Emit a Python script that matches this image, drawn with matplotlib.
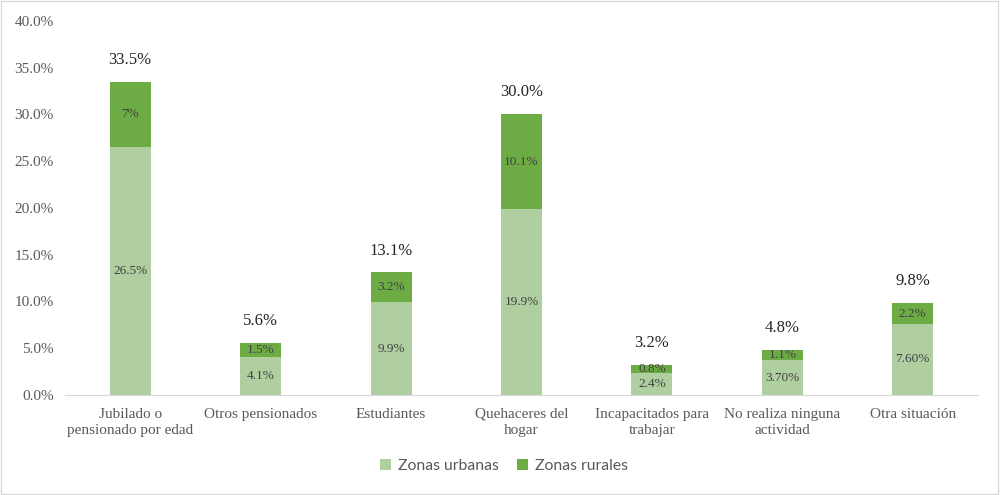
import matplotlib.pyplot as plt
import numpy as np
from matplotlib.patches import Rectangle
from matplotlib.ticker import FuncFormatter

categories = [
    "Jubilado o\npensionado por edad",
    "Otros pensionados",
    "Estudiantes",
    "Quehaceres del\nhogar",
    "Incapacitados para\ntrabajar",
    "No realiza ninguna\nactividad",
    "Otra situación",
]
urbanas = [26.5, 4.1, 9.9, 19.9, 2.4, 3.7, 7.6]
rurales = [7.0, 1.5, 3.2, 10.1, 0.8, 1.1, 2.2]
urbanas_labels = ["26.5%", "4.1%", "9.9%", "19.9%", "2.4%", "3.70%", "7.60%"]
rurales_labels = ["7%", "1.5%", "3.2%", "10.1%", "0.8%", "1.1%", "2.2%"]
totales = [33.5, 5.6, 13.1, 30.0, 3.2, 4.8, 9.8]

light = "#B0CFA0"
dark = "#6DAC45"
grey = "#595959"
serif = "Liberation Serif"

fig = plt.figure(figsize=(10, 4.95), dpi=100)
ax = fig.add_axes([0.065, 0.202, 0.913, 0.756])

x = np.arange(len(categories))
width = 0.315

b1 = ax.bar(x, urbanas, width, color=light, label="Zonas urbanas")
b2 = ax.bar(x, rurales, width, bottom=urbanas, color=dark, label="Zonas rurales")

ax.bar_label(b1, labels=urbanas_labels, label_type="center",
             fontsize=9.5, color="#404040", family=serif)
ax.bar_label(b2, labels=rurales_labels, label_type="center",
             fontsize=9.5, color="#404040", family=serif)

for xi, t in zip(x, totales):
    ax.annotate(f"{t:.1f}%", (xi, t), xytext=(0, 10), textcoords="offset points",
                ha="center", va="bottom", fontsize=12, color="#262626", family=serif)

ax.set_xlim(-0.5, len(categories) - 0.5)
ax.set_ylim(0, 40)
ax.set_yticks(np.arange(0, 40.1, 5))
ax.yaxis.set_major_formatter(FuncFormatter(lambda v, _: f"{v:.1f}%"))
ax.set_xticks(x)
ax.set_xticklabels(categories)

for lab in ax.get_xticklabels() + ax.get_yticklabels():
    lab.set_family(serif)
    lab.set_fontsize(11)
    lab.set_color(grey)
for lab in ax.get_xticklabels():
    lab.set_linespacing(1.35)

ax.tick_params(axis="both", length=0)
ax.tick_params(axis="x", pad=9)
ax.tick_params(axis="y", pad=8)
for side in ["top", "right", "left"]:
    ax.spines[side].set_visible(False)
ax.spines["bottom"].set_color("#D9D9D9")

fig.legend(loc="center", bbox_to_anchor=(0.504, 0.058), ncol=2, frameon=False,
           prop={"family": "Lato", "size": 11.3}, handlelength=0.7, handleheight=0.7,
           columnspacing=1.2, handletextpad=0.4, labelcolor=grey)

fig.patches.append(Rectangle((0.001, 0.002), 0.997, 0.995, transform=fig.transFigure,
                             fill=False, edgecolor="#D9D9D9", linewidth=1))

fig.savefig("out.png", dpi=100)
